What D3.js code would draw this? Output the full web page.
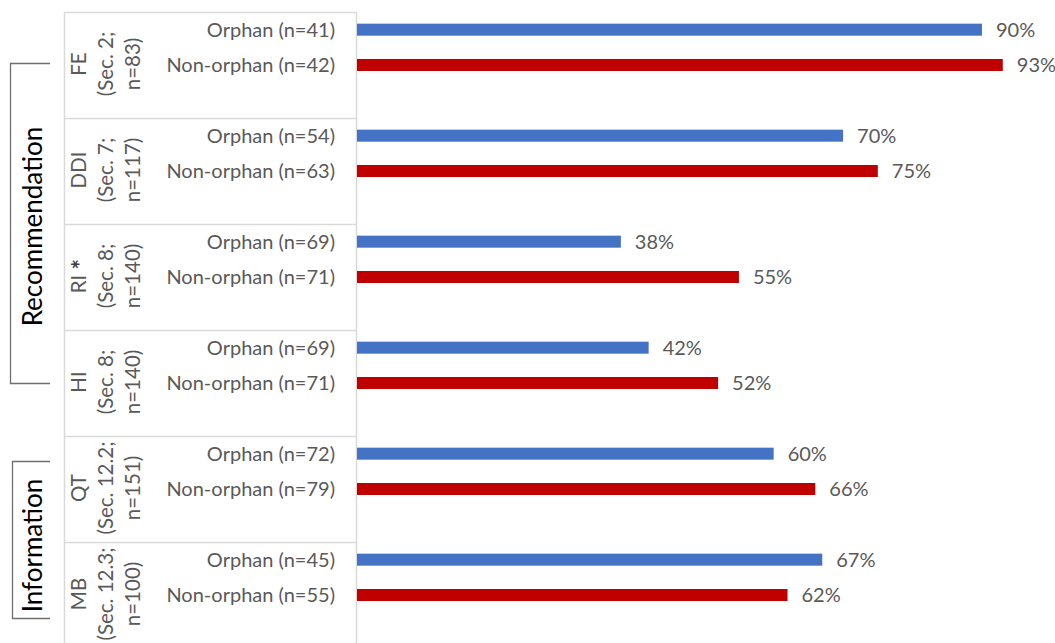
<!DOCTYPE html>
<html>
<head>
<meta charset="utf-8">
<script src="https://cdn.jsdelivr.net/npm/d3@7"></script>
<style>
  html, body { margin: 0; padding: 0; background: #fff; }
  svg { display: block; font-family: Lato, "Open Sans", sans-serif; }
</style>
</head>
<body>
<svg id="chart" width="1055" height="643"></svg>
<script>
// Label sections (each drawn as three stacked, rotated lines)
const sections = ["FE", "DDI", "RI", "HI", "QT", "MB"];
const sectionLines = [
  ["FE", "(Sec. 2;", "n=83)"],
  ["DDI", "(Sec. 7;", "n=117)"],
  ["RI *", "(Sec. 8;", "n=140)"],
  ["HI", "(Sec. 8;", "n=140)"],
  ["QT", "(Sec. 12.2;", "n=151)"],
  ["MB", "(Sec. 12.3;", "n=100)"]
];
const series = ["Orphan", "Non-orphan"];
const orphanN = [41, 54, 69, 69, 72, 45];
const nonOrphanN = [42, 63, 71, 71, 79, 55];
const orphanPct = [90, 70, 38, 42, 60, 67];
const nonOrphanPct = [93, 75, 55, 52, 66, 62];
const groupNames = ["Recommendation", "Information"];

const colors = { Orphan: "#4472C4", "Non-orphan": "#C00000" };
const textColor = "#595959";
const gridColor = "#D9D9D9";

const svg = d3.select("#chart");

const plotLeft = 357, plotTop = 12, groupH = 106;
const x = d3.scaleLinear().domain([0, 100]).range([plotLeft, plotLeft + 694.4]);
const y = d3.scaleBand().domain(sections)
  .range([plotTop, plotTop + groupH * sections.length]).padding(0);
// three slots per section: two bars and an empty row
const slot = d3.scaleBand().domain([...series, "gap"])
  .range([0, y.bandwidth()]).padding(0);
const barH = 12;

const rows = [];
sections.forEach((s, i) => {
  rows.push({ sec: s, series: "Orphan", n: orphanN[i], v: orphanPct[i] });
  rows.push({ sec: s, series: "Non-orphan", n: nonOrphanN[i], v: nonOrphanPct[i] });
});
const cy = d => y(d.sec) + slot(d.series) + slot.bandwidth() / 2;

// table grid on the left
const grid = svg.append("g").attr("stroke", gridColor).attr("stroke-width", 1.5);
const tableLeft = 64.5, axisX = 356.5;
y.domain().forEach(s => {
  grid.append("line").attr("x1", tableLeft).attr("x2", axisX)
    .attr("y1", y(s) + 0.5).attr("y2", y(s) + 0.5);
});
grid.append("line").attr("x1", tableLeft).attr("x2", tableLeft)
  .attr("y1", plotTop).attr("y2", 660);
grid.append("line").attr("x1", axisX).attr("x2", axisX)
  .attr("y1", plotTop).attr("y2", 660);

// bars
svg.append("g").selectAll("rect").data(rows).join("rect")
  .attr("x", x(0))
  .attr("y", d => cy(d) - barH / 2)
  .attr("width", d => x(d.v) - x(0))
  .attr("height", barH)
  .attr("fill", d => colors[d.series]);

// value labels
svg.append("g").selectAll("text").data(rows).join("text")
  .attr("x", d => x(d.v) + 14)
  .attr("y", d => cy(d))
  .attr("dy", "0.35em")
  .attr("fill", textColor)
  .attr("font-size", 20)
  .text(d => d.v + "%");

// series labels
svg.append("g").selectAll("text").data(rows).join("text")
  .attr("x", 335)
  .attr("y", d => cy(d))
  .attr("dy", "0.35em")
  .attr("text-anchor", "end")
  .attr("fill", textColor)
  .attr("font-size", 20)
  .text(d => `${d.series} (n=${d.n})`);

// rotated section labels; a trailing asterisk is drawn larger and bold
const secG = svg.append("g");
sections.forEach((s, i) => {
  const c = y(s) + y.bandwidth() / 2;
  sectionLines[i].forEach((line, j) => {
    const t = secG.append("text")
      .attr("transform", `translate(${86 + j * 27},${c - 1}) rotate(-90)`)
      .attr("text-anchor", "middle")
      .attr("fill", textColor)
      .attr("font-size", 20.5);
    if (line.endsWith("*")) {
      t.append("tspan").text(line.slice(0, -1));
      t.append("tspan").attr("font-size", 25).attr("font-weight", "bold")
        .attr("fill", "#404040").attr("dy", 4).text("*");
    } else {
      t.text(line);
    }
  });
});

// outer brackets with group names
const br = svg.append("g");
const brackets = [
  { top: 63.5, bottom: 383.5, x: 10.5, shift: 3 },
  { top: 461.5, bottom: 618.5, x: 12.5, shift: 5.5 }
];
groupNames.forEach((name, i) => {
  const b = brackets[i];
  br.append("path")
    .attr("d", `M50,${b.top}H${b.x}V${b.bottom}H50`)
    .attr("fill", "none")
    .attr("stroke", "#6F6F6F")
    .attr("stroke-width", 1.3);
  br.append("text")
    .attr("transform", `translate(42,${(b.top + b.bottom) / 2 + b.shift}) rotate(-90)`)
    .attr("text-anchor", "middle")
    .attr("fill", "#000")
    .attr("font-size", 26)
    .text(name);
});
</script>
</body>
</html>
